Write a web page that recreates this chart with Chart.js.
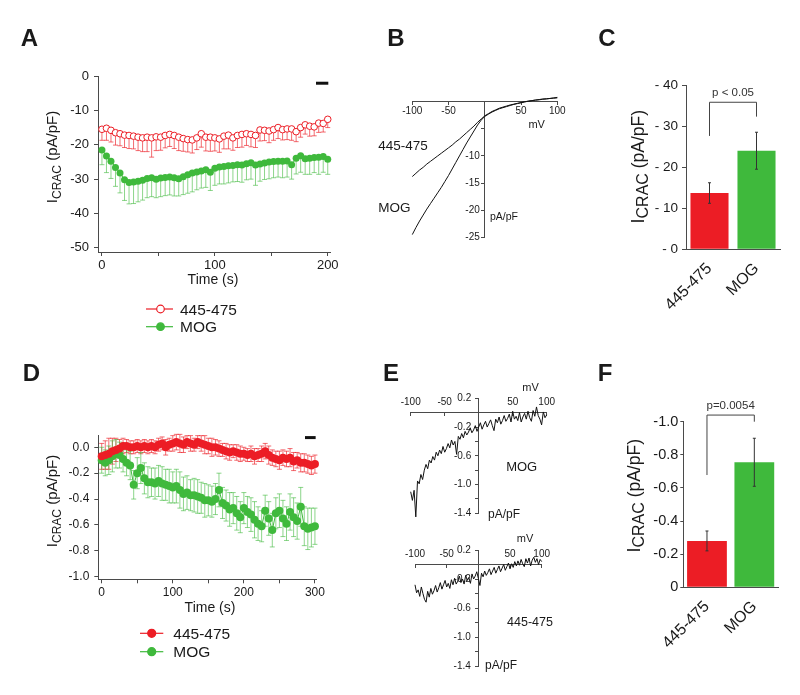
<!DOCTYPE html>
<html>
<head>
<meta charset="utf-8">
<script src="https://cdn.jsdelivr.net/npm/chart.js@4.4.1/dist/chart.umd.min.js"></script>
<style>
  html, body { margin: 0; padding: 0; background: #fff; }
  #fig { position: relative; width: 800px; height: 695px; overflow: hidden; }
  #fig canvas { position: absolute; left: 0; top: 0; }
</style>
</head>
<body>
<div id="fig">
  <canvas id="cA" width="800" height="695"></canvas>
  <canvas id="cB" width="800" height="695"></canvas>
  <canvas id="cC" width="800" height="695"></canvas>
  <canvas id="cD" width="800" height="695"></canvas>
  <canvas id="cE1" width="800" height="695"></canvas>
  <canvas id="cE2" width="800" height="695"></canvas>
  <canvas id="cF" width="800" height="695"></canvas>
</div>
<script>
// ---- data ----
// A: time course, 4 s sampling
const timeA = [];
for (let t = 0; t <= 200; t += 4) timeA.push(t);
const redA = [-15.5, -15.2, -15.8, -16.5, -16.8, -17.2, -17.3, -17.5, -17.8, -18.0,
  -17.8, -18.0, -17.7, -17.8, -17.3, -17.0, -17.3, -17.8, -18.2, -18.5,
  -18.6, -18.0, -16.8, -17.8, -17.8, -18.0, -18.3, -17.5, -17.2, -18.0,
  -17.3, -17.0, -16.8, -17.0, -17.3, -15.7, -15.8, -16.0, -15.6, -15.0,
  -15.6, -15.4, -15.4, -16.2, -15.0, -14.2, -14.6, -14.8, -13.7, -13.8, -12.6];
const redErrA = [3.2, 3.5, 3.4, 3.6, 3.5, 3.6, 3.8, 3.7, 3.9, 4.0,
  4.2, 5.6, 4.0, 3.8, 3.6, 3.5, 3.8, 3.9, 3.7, 3.6,
  3.8, 3.4, 3.9, 4.0, 4.1, 3.8, 3.9, 3.7, 4.0, 3.6,
  3.5, 3.7, 3.4, 3.6, 3.5, 3.2, 3.0, 3.4, 3.1, 3.2,
  3.0, 3.1, 3.3, 2.9, 2.8, 2.7, 2.9, 2.6, 2.7, 2.5, 2.4];
const greenA = [-21.5, -23.3, -24.8, -26.6, -28.2, -30.2, -31.0, -30.8, -30.6, -30.3,
  -29.8, -29.6, -30.0, -29.7, -29.5, -29.4, -29.6, -29.9, -29.3, -28.7,
  -28.2, -27.9, -27.6, -27.3, -28.0, -26.8, -26.5, -26.3, -26.1, -26.0,
  -25.8, -25.9, -25.5, -25.2, -25.9, -25.6, -25.3, -25.0, -24.9, -24.8,
  -24.8, -24.7, -25.8, -23.9, -23.2, -24.1, -23.9, -23.7, -23.6, -23.4, -24.2];
const greenErrA = [4.3, 4.8, 5.0, 5.5, 5.8, 6.0, 6.2, 6.3, 6.0, 5.8,
  5.6, 5.5, 5.4, 5.4, 5.3, 5.2, 5.3, 5.0, 5.2, 5.4,
  5.5, 5.2, 5.0, 5.1, 5.3, 5.0, 4.9, 5.1, 5.0, 4.8,
  4.9, 5.0, 4.7, 4.8, 5.9, 5.0, 4.8, 4.9, 4.7, 4.6,
  4.8, 4.7, 4.2, 4.6, 4.8, 4.5, 4.7, 4.4, 5.0, 4.6, 4.4];
const xTicksA = [0, 50, 100, 150, 200];
const yTicksA = [0, -10, -20, -30, -40, -50];
const scaleBarA = [189.6, 200.5, -2.1];

// B: I-V curves, 5 mV steps
const mvB = [];
for (let v = -100; v <= 100; v += 5) mvB.push(v);
const mogB = [-24.5, -23.2, -22.0, -20.9, -19.8, -18.8, -17.8, -16.8, -15.8, -14.7,
  -13.6, -12.4, -11.2, -10.0, -8.8, -7.6, -6.5, -5.4, -4.3, -3.4,
  -2.7, -2.3, -1.9, -1.6, -1.3, -1.1, -0.9, -0.7, -0.5, -0.35,
  -0.2, -0.05, 0.1, 0.2, 0.3, 0.4, 0.5, 0.55, 0.6, 0.7, 0.8];
const ctlB = [-13.8, -13.2, -12.6, -12.1, -11.5, -11.0, -10.5, -10.0, -9.5, -9.0,
  -8.5, -8.0, -7.4, -6.9, -6.3, -5.7, -5.1, -4.5, -3.8, -3.2,
  -2.6, -2.2, -1.8, -1.5, -1.2, -1.0, -0.8, -0.6, -0.45, -0.3,
  -0.15, 0.0, 0.1, 0.2, 0.3, 0.35, 0.45, 0.5, 0.6, 0.65, 0.7];
const xTicksIV = [-100, -50, 0, 50, 100];
const yTicksB = [0, -5, -10, -15, -20, -25];

// C: bar summary
const groups = ['445-475', 'MOG'];
const barC = [13.7, 24.0];
const errC = [2.5, 4.5];
const yTicksC = [0, 10, 20, 30, 40];
const bracketC = [27.6, 35.8, 32.3];

// D: time course, 5 s sampling
const timeD = [];
for (let t = 0; t <= 300; t += 5) timeD.push(t);
const redD = [-0.07, -0.06, -0.05, -0.03, -0.02, -0.01, 0.01, 0.01, 0.00, 0.00,
  0.01, 0.00, 0.01, 0.00, 0.01, 0.00, 0.02, 0.03, 0.00, 0.02,
  0.03, 0.04, 0.03, 0.02, 0.04, 0.03, 0.02, 0.04, 0.03, 0.02,
  0.01, 0.00, 0.00, -0.01, -0.02, -0.03, -0.04, -0.03, -0.04, -0.05,
  -0.05, -0.06, -0.05, -0.07, -0.06, -0.05, -0.03, -0.06, -0.08, -0.09,
  -0.10, -0.08, -0.09, -0.08, -0.11, -0.10, -0.12, -0.12, -0.13, -0.14, -0.13];
const redErrD = [0.10, 0.11, 0.12, 0.10, 0.09, 0.07, 0.06, 0.05, 0.05, 0.05,
  0.05, 0.05, 0.05, 0.05, 0.05, 0.05, 0.05, 0.05, 0.06, 0.05,
  0.06, 0.06, 0.07, 0.06, 0.05, 0.06, 0.05, 0.05, 0.06, 0.07,
  0.06, 0.07, 0.06, 0.06, 0.05, 0.06, 0.06, 0.05, 0.06, 0.06,
  0.05, 0.05, 0.06, 0.06, 0.05, 0.06, 0.06, 0.07, 0.06, 0.06,
  0.07, 0.06, 0.06, 0.07, 0.07, 0.06, 0.07, 0.07, 0.07, 0.07, 0.07];
const greenD = [-0.10, -0.12, -0.10, -0.07, -0.05, -0.06, -0.09, -0.12, -0.14, -0.29,
  -0.20, -0.16, -0.24, -0.27, -0.27, -0.28, -0.26, -0.28, -0.29, -0.30,
  -0.31, -0.30, -0.33, -0.36, -0.35, -0.37, -0.37, -0.38, -0.39, -0.41,
  -0.41, -0.42, -0.40, -0.33, -0.43, -0.45, -0.48, -0.47, -0.51, -0.54,
  -0.47, -0.50, -0.52, -0.56, -0.59, -0.61, -0.49, -0.55, -0.64, -0.51,
  -0.49, -0.55, -0.59, -0.50, -0.54, -0.57, -0.46, -0.61, -0.63, -0.62, -0.61];
const greenErrD = [0.10, 0.10, 0.11, 0.12, 0.11, 0.10, 0.10, 0.10, 0.11, 0.11,
  0.12, 0.12, 0.12, 0.12, 0.11, 0.12, 0.12, 0.13, 0.12, 0.13,
  0.12, 0.13, 0.14, 0.13, 0.13, 0.12, 0.13, 0.13, 0.12, 0.13,
  0.12, 0.12, 0.12, 0.13, 0.12, 0.12, 0.13, 0.12, 0.13, 0.12,
  0.12, 0.12, 0.13, 0.14, 0.13, 0.12, 0.12, 0.13, 0.13, 0.12,
  0.13, 0.14, 0.13, 0.14, 0.15, 0.14, 0.15, 0.15, 0.16, 0.15, 0.14];
const xTicksD = [0, 50, 100, 150, 200, 250, 300];
const yTicksD = [0, -0.2, -0.4, -0.6, -0.8, -1.0];
const scaleBarD = [286, 301, 0.075];

// E: single-cell I-V traces, 2.5 mV steps
const mvE = [];
for (let v = -100; v <= 100; v += 2.5) mvE.push(v);
const mogE = [-1.10, -1.22, -1.08, -1.45, -0.95, -0.99, -0.86, -0.93, -0.80, -0.72,
  -0.78, -0.66, -0.70, -0.61, -0.66, -0.55, -0.60, -0.52, -0.57, -0.47,
  -0.55, -0.50, -0.43, -0.49, -0.38, -0.45, -0.40, -0.58, -0.33, -0.37,
  -0.29, -0.35, -0.26, -0.31, -0.27, -0.21, -0.28, -0.24, -0.18, -0.26,
  -0.20, -0.14, -0.23, -0.17, -0.12, -0.20, -0.15, -0.10, -0.18, -0.25,
  -0.09, -0.14, -0.06, -0.16, -0.11, -0.04, -0.12, -0.08, -0.02, -0.13,
  0.02, -0.09, -0.05, -0.11, 0.00, -0.13, -0.06, -0.01, -0.09, 0.02,
  -0.07, -0.12, 0.03, -0.05, 0.08, -0.04, -0.09, -0.17, 0.01, -0.07, -0.03];
const ctlE = [-0.28, -0.39, -0.35, -0.44, -0.31, -0.40, -0.48, -0.52, -0.37, -0.45,
  -0.33, -0.41, -0.36, -0.29, -0.38, -0.32, -0.25, -0.34, -0.28, -0.22,
  -0.31, -0.26, -0.33, -0.21, -0.28, -0.19, -0.27, -0.23, -0.16, -0.25,
  -0.20, -0.27, -0.15, -0.22, -0.18, -0.26, -0.13, -0.20, -0.16, -0.10,
  -0.19, -0.29, -0.12, -0.17, -0.09, -0.15, -0.11, -0.06, -0.14, -0.09,
  -0.04, -0.12, -0.07, -0.02, -0.10, -0.05, 0.00, -0.08, -0.03, 0.02,
  -0.06, 0.01, -0.04, 0.04, -0.02, 0.05, -0.01, 0.07, 0.01, -0.03,
  0.08, 0.02, 0.09, -0.02, 0.06, 0.10, 0.03, 0.08, 0.00, 0.07, 0.04];
const yTicksE = [0.2, 0, -0.2, -0.4, -0.6, -0.8, -1.0, -1.2, -1.4];
const yLabelsE = [0.2, -0.2, -0.6, -1.0, -1.4];

// F: bar summary
const barF = [0.28, 0.755];
const errF = [0.06, 0.145];
const yTicksF = [0, 0.2, 0.4, 0.6, 0.8, 1.0];
const bracketF = [0.678, 1.04, 1.0];

// ---- style ----
const FONT = '"Liberation Sans", Arial, Helvetica, sans-serif';
Chart.defaults.font.family = FONT;
Chart.defaults.color = '#1a1a1a';
const RED = '#ec1d25', GREEN = '#3fb93c';
const RED_ERR = 'rgba(236,29,37,0.65)', GREEN_ERR = 'rgba(63,185,60,0.6)';
const AX = '#4a4a4a', TXT = '#1a1a1a';

// chart area -> layout padding (every canvas covers the whole figure)
function pad(l, t, r, b, yw, xh) {
  return { left: l - yw, top: t, right: 800 - r, bottom: 695 - b - xh };
}
function fixedTicks(list) {
  return s => { s.ticks = list.map(v => ({ value: v })); };
}
function pts(xs, ys) {
  return xs.map((x, i) => ({ x: x, y: ys[i] }));
}
const near = (a, b) => Math.abs(a - b) < 1e-6;

function axis(o) {
  const a = {
    type: 'linear', min: o.min, max: o.max,
    afterBuildTicks: fixedTicks(o.ticks),
    grid: { display: true, drawOnChartArea: false, drawTicks: true, tickLength: o.tl == null ? 4 : o.tl, color: AX, lineWidth: 1 },
    border: { display: true, color: AX, width: 1 },
    ticks: { autoSkip: false, maxRotation: 0, minRotation: 0, padding: o.pad == null ? 3 : o.pad,
      color: TXT, font: { size: o.font }, callback: o.label }
  };
  if (o.position) a.position = o.position;
  if (o.size) a.afterFit = s => { if (s.isHorizontal()) s.height = o.size; else s.width = o.size; };
  return a;
}

function baseOpts(padding, scales) {
  return {
    responsive: false, animation: false, events: [],
    layout: { padding: padding },
    plugins: { legend: { display: false }, tooltip: { enabled: false } },
    scales: scales
  };
}

// ---- drawing helpers ----
function drawText(ctx, it) {
  ctx.save();
  ctx.translate(it.x, it.y);
  if (it.rot) ctx.rotate(it.rot * Math.PI / 180);
  ctx.fillStyle = it.color || TXT;
  ctx.textBaseline = 'alphabetic';
  ctx.textAlign = 'left';
  const parts = it.parts || [[it.t, it.size || 12, 0]];
  const fontOf = p => (it.bold ? 'bold ' : '') + p[1] + 'px ' + FONT;
  let total = 0;
  parts.forEach(p => { ctx.font = fontOf(p); total += ctx.measureText(p[0]).width; });
  let x0 = it.align === 'left' ? 0 : it.align === 'right' ? -total : -total / 2;
  const base = 0.36 * parts[0][1];
  parts.forEach(p => {
    ctx.font = fontOf(p);
    ctx.fillText(p[0], x0, base + (p[2] || 0));
    x0 += ctx.measureText(p[0]).width;
  });
  ctx.restore();
}

function textPlugin(items) {
  return { id: 'texts', afterDraw(chart) { items.forEach(it => drawText(chart.ctx, it)); } };
}

function legendPlugin(o) {
  return {
    id: 'legendBox',
    afterDraw(chart) {
      const ctx = chart.ctx;
      o.rows.forEach(r => {
        ctx.save();
        ctx.strokeStyle = r.color; ctx.lineWidth = 1.2;
        ctx.beginPath(); ctx.moveTo(o.x0, r.y); ctx.lineTo(o.x1, r.y); ctx.stroke();
        ctx.beginPath(); ctx.arc(o.xm, r.y, o.r, 0, Math.PI * 2);
        ctx.fillStyle = r.open ? '#fff' : r.color; ctx.fill();
        ctx.lineWidth = 1.2; ctx.stroke();
        ctx.restore();
        drawText(ctx, { t: r.label, x: o.tx, y: r.y, size: o.size, align: 'left' });
      });
    }
  };
}

function errorPlugin() {
  const draw = (chart, layer) => {
    const ctx = chart.ctx, ys = chart.scales.y;
    chart.data.datasets.forEach((ds, di) => {
      if (!ds.errors || (ds.errLayer || 'before') !== layer) return;
      const meta = chart.getDatasetMeta(di);
      ctx.save();
      ctx.strokeStyle = ds.errColor; ctx.lineWidth = ds.errWidth || 1;
      meta.data.forEach((el, i) => {
        const d = ds.data[i];
        const v = typeof d === 'object' ? d.y : d;
        const e = ds.errors[i], c = ds.errCap || 0, x = el.x;
        const lo = ys.getPixelForValue(v - e);
        const hi = ds.errDir === 'down' ? ys.getPixelForValue(v) : ys.getPixelForValue(v + e);
        ctx.beginPath();
        ctx.moveTo(x, hi); ctx.lineTo(x, lo);
        if (c) {
          ctx.moveTo(x - c, lo); ctx.lineTo(x + c, lo);
          if (ds.errDir !== 'down') { ctx.moveTo(x - c, hi); ctx.lineTo(x + c, hi); }
        }
        ctx.stroke();
      });
      ctx.restore();
    });
  };
  return {
    id: 'errorBars',
    beforeDatasetsDraw(chart) { draw(chart, 'before'); },
    afterDatasetsDraw(chart) { draw(chart, 'after'); }
  };
}

function scaleBarPlugin(bar) {
  return {
    id: 'scaleBar',
    afterDatasetsDraw(chart) {
      const ctx = chart.ctx, xs = chart.scales.x, ys = chart.scales.y;
      const y = ys.getPixelForValue(bar[2]);
      ctx.save(); ctx.strokeStyle = '#111'; ctx.lineWidth = 3;
      ctx.beginPath(); ctx.moveTo(xs.getPixelForValue(bar[0]), y); ctx.lineTo(xs.getPixelForValue(bar[1]), y); ctx.stroke();
      ctx.restore();
    }
  };
}

function bracketPlugin(levels, label) {
  return {
    id: 'bracket',
    afterDatasetsDraw(chart) {
      const ctx = chart.ctx, xs = chart.scales.x, ys = chart.scales.y;
      const x0 = xs.getPixelForValue(0), x1 = xs.getPixelForValue(1);
      const l = ys.getPixelForValue(levels[0]), top = ys.getPixelForValue(levels[1]), r = ys.getPixelForValue(levels[2]);
      ctx.save(); ctx.strokeStyle = '#444'; ctx.lineWidth = 1;
      ctx.beginPath(); ctx.moveTo(x0, l); ctx.lineTo(x0, top); ctx.lineTo(x1, top); ctx.lineTo(x1, r); ctx.stroke();
      ctx.restore();
      drawText(ctx, { t: label, x: (x0 + x1) / 2, y: top - 10, size: 11.5, color: '#333' });
    }
  };
}

const yTitleSmall = [['I', 15, 0], ['CRAC', 12, 4], [' (pA/pF)', 15, 0]];
const yTitleBig = [['I', 18, 0], ['CRAC', 16, 4], [' (pA/pF)', 17.5, 0]];

// ---- A ----
new Chart(document.getElementById('cA'), {
  type: 'line',
  data: { datasets: [
    { data: pts(timeA, redA), borderColor: RED, borderWidth: 1, pointRadius: 3.3, pointBorderWidth: 1,
      pointBackgroundColor: '#fff', pointBorderColor: RED, clip: false,
      errors: redErrA, errDir: 'down', errColor: RED_ERR, errCap: 2.5 },
    { data: pts(timeA, greenA), borderColor: GREEN, borderWidth: 1, pointRadius: 3.5, pointBorderWidth: 0,
      pointBackgroundColor: GREEN, clip: false,
      errors: greenErrA, errDir: 'down', errColor: GREEN_ERR, errCap: 2.5 }
  ] },
  options: baseOpts(pad(98, 76, 330, 252, 60, 40), {
    x: axis({ min: -3.5, max: 202, ticks: xTicksA, size: 40, font: 13, pad: 2, label: v => (v % 100 === 0 ? String(v) : '') }),
    y: axis({ min: -51.2, max: 0, ticks: yTicksA, size: 60, font: 13, pad: 5, label: v => String(v) })
  }),
  plugins: [errorPlugin(), scaleBarPlugin(scaleBarA),
    textPlugin([
      { t: 'A', x: 29.5, y: 37, size: 24, bold: true },
      { parts: yTitleSmall, x: 52, y: 157, rot: -90 },
      { t: 'Time (s)', x: 213, y: 279, size: 14 }
    ]),
    legendPlugin({ x0: 146, x1: 173, xm: 160.5, r: 3.8, tx: 180, size: 15.5, rows: [
      { y: 309, color: RED, open: true, label: '445-475' },
      { y: 326.7, color: GREEN, open: false, label: 'MOG' }
    ] })]
});

// ---- B ----
// y labels sit right-aligned on an axis placed at x = 0, so they carry a trailing en space
new Chart(document.getElementById('cB'), {
  type: 'line',
  data: { datasets: [
    { data: pts(mvB, ctlB), borderColor: '#111', borderWidth: 1, pointRadius: 0, clip: false },
    { data: pts(mvB, mogB), borderColor: '#111', borderWidth: 1, pointRadius: 0, clip: false }
  ] },
  options: baseOpts({ left: 412.3, top: 101.7, right: 800 - 557.3, bottom: 695 - 237.3 }, {
    x: axis({ min: -100, max: 100, ticks: xTicksIV, position: { y: 0 }, font: 10, tl: 3, pad: 1, label: v => (v === 0 ? '' : String(v)) }),
    y: axis({ min: -25, max: 0, ticks: yTicksB, position: { x: 0 }, font: 10, tl: 3, pad: 3,
      label: v => (v === 0 || v === -5 ? '' : String(v) + '\u2002') })
  }),
  plugins: [textPlugin([
    { t: 'B', x: 396, y: 37, size: 24, bold: true },
    { t: '445-475', x: 378.3, y: 145, size: 13.5, align: 'left' },
    { t: 'MOG', x: 378.3, y: 206.7, size: 13.5, align: 'left' },
    { t: 'mV', x: 536.7, y: 124, size: 11 },
    { t: 'pA/pF', x: 490, y: 216.7, size: 10.5, align: 'left' }
  ])]
});

// ---- C ----
new Chart(document.getElementById('cC'), {
  type: 'bar',
  data: { labels: groups, datasets: [
    { data: barC, backgroundColor: [RED, GREEN], borderWidth: 0, barPercentage: 0.81, categoryPercentage: 1,
      errors: errC, errDir: 'both', errColor: '#333', errCap: 1.5, errLayer: 'after' }
  ] },
  options: baseOpts(pad(686, 85, 780, 249.3, 60, 70), {
    x: { type: 'category', afterFit: s => { s.height = 70; }, grid: { display: false },
      border: { display: true, color: AX, width: 1 },
      ticks: { autoSkip: false, minRotation: 45, maxRotation: 45, padding: 2, color: TXT, font: { size: 16 } } },
    y: axis({ min: 0, max: 40, ticks: yTicksC, size: 60, font: 13.5, pad: 4, label: v => '- ' + v })
  }),
  plugins: [errorPlugin(), bracketPlugin(bracketC, 'p < 0.05'),
    textPlugin([
      { t: 'C', x: 607, y: 37, size: 24, bold: true },
      { parts: yTitleBig, x: 637.5, y: 166.7, rot: -90 }
    ])]
});

// ---- D ----
new Chart(document.getElementById('cD'), {
  type: 'line',
  data: { datasets: [
    { data: pts(timeD, redD), borderColor: RED, borderWidth: 1, pointRadius: 4, pointBorderWidth: 0,
      pointBackgroundColor: RED, clip: false,
      errors: redErrD, errDir: 'both', errColor: RED_ERR, errCap: 2.5 },
    { data: pts(timeD, greenD), borderColor: GREEN, borderWidth: 1, pointRadius: 4, pointBorderWidth: 0,
      pointBackgroundColor: GREEN, clip: false,
      errors: greenErrD, errDir: 'both', errColor: GREEN_ERR, errCap: 2.5 }
  ] },
  options: baseOpts(pad(98.3, 435, 316, 579.3, 60, 40), {
    x: axis({ min: -4.8, max: 301.5, ticks: xTicksD, size: 40, font: 12, pad: 2, label: v => (v % 100 === 0 ? String(v) : '') }),
    y: axis({ min: -1.02, max: 0.095, ticks: yTicksD, size: 60, font: 12, pad: 5, label: v => (near(v, 0) ? '0.0' : v.toFixed(1)) })
  }),
  plugins: [errorPlugin(), scaleBarPlugin(scaleBarD),
    textPlugin([
      { t: 'D', x: 31.5, y: 372, size: 24, bold: true },
      { parts: yTitleSmall, x: 51.7, y: 501, rot: -90 },
      { t: 'Time (s)', x: 210, y: 607.3, size: 14 }
    ]),
    legendPlugin({ x0: 140, x1: 163.3, xm: 151.7, r: 4, tx: 173.3, size: 15.5, rows: [
      { y: 633.3, color: RED, open: false, label: '445-475' },
      { y: 651.7, color: GREEN, open: false, label: 'MOG' }
    ] })]
});

// ---- E (two traces) ----
function ivAxes(left, right, top, bottom) {
  return baseOpts({ left: left, top: top, right: 800 - right, bottom: 695 - bottom }, {
    x: axis({ min: -100, max: 100, ticks: xTicksIV, position: { y: 0 }, font: 10, tl: 3, pad: -19, label: v => (v === 0 ? '' : String(v)) }),
    y: axis({ min: -1.4, max: 0.2, ticks: yTicksE, position: { x: 0 }, font: 10, tl: 3, pad: 3,
      label: v => (yLabelsE.some(l => near(l, v)) ? v.toFixed(1) + '\u2002\u2005' : '') })
  });
}
new Chart(document.getElementById('cE1'), {
  type: 'line',
  data: { datasets: [{ data: pts(mvE, mogE), borderColor: '#111', borderWidth: 1, pointRadius: 0, clip: false }] },
  options: ivAxes(410.7, 546.7, 398.3, 513.3),
  plugins: [textPlugin([
    { t: 'E', x: 391, y: 372, size: 24, bold: true },
    { t: 'mV', x: 530.5, y: 386.7, size: 11 },
    { t: 'MOG', x: 521.7, y: 466.7, size: 13 },
    { t: 'pA/pF', x: 488, y: 514, size: 12, align: 'left' }
  ])]
});
new Chart(document.getElementById('cE2'), {
  type: 'line',
  data: { datasets: [{ data: pts(mvE, ctlE), borderColor: '#111', borderWidth: 1, pointRadius: 0, clip: false }] },
  options: ivAxes(415, 541.7, 550, 666),
  plugins: [textPlugin([
    { t: 'mV', x: 525, y: 538.3, size: 11 },
    { t: '445-475', x: 530, y: 621.7, size: 12.5 },
    { t: 'pA/pF', x: 485, y: 665, size: 12, align: 'left' }
  ])]
});

// ---- F ----
new Chart(document.getElementById('cF'), {
  type: 'bar',
  data: { labels: groups, datasets: [
    { data: barF, backgroundColor: [RED, GREEN], borderWidth: 0, barPercentage: 0.84, categoryPercentage: 1,
      errors: errF, errDir: 'both', errColor: '#333', errCap: 1.5, errLayer: 'after' }
  ] },
  options: baseOpts(pad(683.3, 421.7, 778, 587.3, 60, 70), {
    x: { type: 'category', afterFit: s => { s.height = 70; }, grid: { display: false },
      border: { display: true, color: AX, width: 1 },
      ticks: { autoSkip: false, minRotation: 45, maxRotation: 45, padding: 2, color: TXT, font: { size: 16 } } },
    y: axis({ min: 0, max: 1.0, ticks: yTicksF, size: 60, font: 14.5, tl: 3, pad: 2, label: v => (near(v, 0) ? '0' : '-' + v.toFixed(1)) })
  }),
  plugins: [errorPlugin(), bracketPlugin(bracketF, 'p=0.0054'),
    textPlugin([
      { t: 'F', x: 605, y: 372, size: 24, bold: true },
      { parts: yTitleBig, x: 634, y: 495.8, rot: -90 }
    ])]
});
</script>
</body>
</html>
